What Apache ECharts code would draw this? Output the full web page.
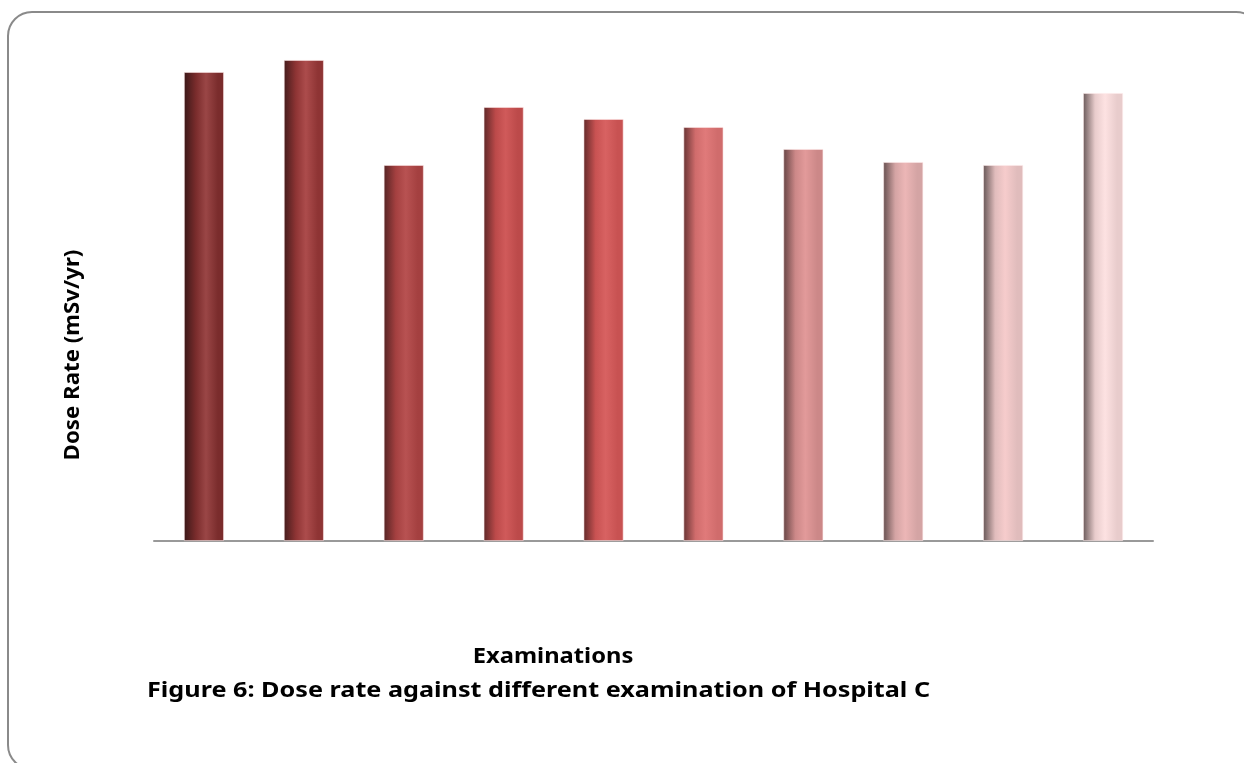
<!DOCTYPE html>
<html>
<head>
<meta charset="utf-8">
<script src="https://cdn.jsdelivr.net/npm/echarts@6/dist/echarts.min.js"></script>
<style>html,body{margin:0;padding:0;background:#fff;}#c{width:1244px;height:763px;}</style>
</head>
<body>
<div id="c"></div>
<script>
const categories = ["Exam 1","Exam 2","Exam 3","Exam 4","Exam 5","Exam 6","Exam 7","Exam 8","Exam 9","Exam 10"];
const doseRates = [4.69, 4.81, 3.76, 4.34, 4.22, 4.14, 3.92, 3.79, 3.76, 4.48];
const yTitle = "Dose Rate (mSv/yr)";
const xTitle = "Examinations";
const caption = "Figure 6: Dose rate against different examination of Hospital C";

// [edge dark, main, highlight]
const barShades = [
  ["#3a1818", "#7a2c2c", "#9a4646"],
  ["#441c1c", "#8e3434", "#ac4c4c"],
  ["#552424", "#a44040", "#b85252"],
  ["#5e2828", "#bc4a4a", "#d05a5a"],
  ["#632a2a", "#c85252", "#d86262"],
  ["#683434", "#d06c6c", "#e07a7a"],
  ["#664444", "#cc8888", "#e29a9a"],
  ["#665050", "#d4a4a4", "#ecb6b6"],
  ["#665656", "#e0bcbc", "#f6cccc"],
  ["#6a5a5a", "#e8cccc", "#fde2e2"]
];

function grad(s) {
  return new echarts.graphic.LinearGradient(0, 0, 1, 0, [
    {offset: 0, color: s[0]},
    {offset: 0.3, color: s[1]},
    {offset: 0.55, color: s[2]},
    {offset: 0.85, color: s[1]},
    {offset: 1, color: s[1]}
  ]);
}

const chart = echarts.init(document.getElementById('c'));
const FONT = '"Noto Sans", "Open Sans", sans-serif';
chart.setOption({
  animation: false,
  backgroundColor: '#fff',
  grid: {left: 154, width: 999, top: 41, bottom: 222, containLabel: false},
  xAxis: {
    type: 'category',
    data: categories,
    axisLine: {show: true, lineStyle: {color: '#999', width: 2}},
    axisTick: {show: false},
    axisLabel: {show: false}
  },
  yAxis: {
    type: 'value',
    min: 0, max: 5,
    show: false,
    splitLine: {show: false}
  },
  series: [{
    type: 'bar',
    barWidth: 40,
    data: doseRates.map((v, i) => ({
      value: v,
      itemStyle: {color: grad(barShades[i]), borderColor: 'rgba(255,235,235,0.7)', borderWidth: 0.8}
    }))
  }],
  graphic: [
    {type: 'rect', shape: {x: 8, y: 12, width: 1252, height: 757, r: 24},
     style: {fill: 'none', stroke: '#8a8a8a', lineWidth: 2}, z: -1},
    {type: 'text', x: 73, y: 355, rotation: Math.PI / 2, scaleX: 1.06,
     style: {text: yTitle, font: 'bold 21px ' + FONT, fill: '#000', align: 'center', verticalAlign: 'middle'}},
    {type: 'text', x: 553, y: 657, scaleX: 1.13,
     style: {text: xTitle, font: 'bold 21px ' + FONT, fill: '#000', align: 'center', verticalAlign: 'middle'}},
    {type: 'text', x: 147, y: 691, scaleX: 1.2,
     style: {text: caption, font: 'bold 21px ' + FONT, fill: '#000', align: 'left', verticalAlign: 'middle'}}
  ]
});
</script>
</body>
</html>
